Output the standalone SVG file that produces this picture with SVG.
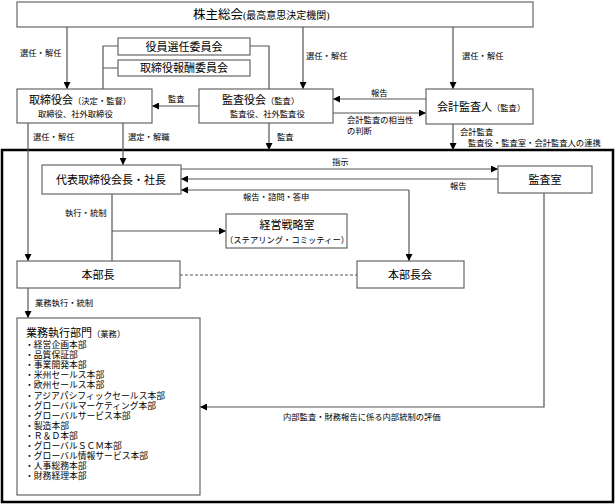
<svg xmlns="http://www.w3.org/2000/svg" width="616" height="504" viewBox="0 0 616 504">
<defs>
<marker id="ah" viewBox="0 0 8 8" refX="8" refY="4" markerWidth="7" markerHeight="7" markerUnits="userSpaceOnUse" orient="auto-start-reverse"><path d="M0,0 L8,4 L0,8 z" fill="#000"/></marker>
<style>
text{font-family:"Liberation Serif","Noto Sans CJK JP",serif;fill:#000}
.box{fill:#fff;stroke:#666;stroke-width:1.2}
.c{fill:none;stroke:#555;stroke-width:1.2}
.a{marker-end:url(#ah)}
.m{text-anchor:middle}
.t{font-size:11px}
.s{font-size:8.3px}
.l{font-size:8.8px}
</style>
</defs>
<rect width="616" height="504" fill="#fff"/>
<rect x="2" y="150" width="611" height="352" fill="none" stroke="#000" stroke-width="2.5"/>

<g id="connectors">
<path class="c a" d="M67,27 V89"/>
<path class="c a" d="M303,27 V89"/>
<path class="c a" d="M453,27 V89"/>
<path class="c" d="M118,46 H103 V89 M118,68 H103 M250,46 H269 V89"/>
<path class="c a" d="M199,106 H152"/>
<path class="c a" d="M426,99 H333"/>
<path class="c a" d="M333,113 H426"/>
<path class="c a" d="M28,123 V261"/>
<path class="c a" d="M123,123 V165"/>
<path class="c a" d="M269,123 V150"/>
<path class="c a" d="M453,124 V150"/>
<path class="c a" d="M181,169 H498"/>
<path class="c a" d="M498,179 H181"/>
<path class="c a" d="M409,190 V261" style="marker-start:none"/>
<path class="c a" d="M409,190 H181"/>
<path class="c" d="M112,194 V261"/>
<path class="c a" d="M112,231 H226"/>
<path class="c" d="M180,275 H357" stroke-dasharray="3,2"/>
<path class="c a" d="M28,288 V318"/>
<path class="c a" d="M544,193 V407 H200"/>
</g>

<g id="labels">
<text class="s" x="20" y="56">選任・解任</text>
<text class="s" x="306" y="59">選任・解任</text>
<text class="s" x="462" y="59">選任・解任</text>
<text class="s" x="168" y="102">監査</text>
<text class="s" x="371" y="96">報告</text>
<text class="s" x="347" y="123">会計監査の相当性</text>
<text class="s" x="347" y="134">の判断</text>
<text class="s" x="33" y="140">選任・解任</text>
<text class="s" x="128" y="140">選定・解職</text>
<text class="s" x="277" y="140">監査</text>
<text class="s" x="460" y="135">会計監査</text>
<text class="s" x="468" y="146">監査役・監査室・会計監査人の連携</text>
<text class="s" x="332" y="165">指示</text>
<text class="s" x="450" y="189">報告</text>
<text class="s" x="243" y="200">報告・諮問・答申</text>
<text class="s" x="65" y="216">執行・統制</text>
<text class="s" x="35" y="306">業務執行・統制</text>
<text class="s" x="283" y="420">内部監査・財務報告に係る内部統制の評価</text>
</g>

<g id="shareholders">
<rect class="box" x="17" y="2" width="516" height="25"/>
<text x="193" y="19"><tspan font-size="12.5px">株主総会</tspan><tspan font-size="10px">(最高意思決定機関)</tspan></text>
</g>
<g id="nomination">
<rect class="box" x="118" y="38" width="132" height="17"/>
<text class="t m" x="184" y="50.5">役員選任委員会</text>
</g>
<g id="compensation">
<rect class="box" x="118" y="60" width="132" height="16"/>
<text class="t m" x="184" y="72">取締役報酬委員会</text>
</g>
<g id="board">
<rect class="box" x="17" y="89" width="135" height="34"/>
<text x="29" y="104"><tspan class="t">取締役会</tspan><tspan class="s">（決定・監督）</tspan></text>
<text class="s" x="38" y="117">取締役、社外取締役</text>
</g>
<g id="auditors">
<rect class="box" x="199" y="89" width="134" height="34"/>
<text x="222" y="104"><tspan class="t">監査役会</tspan><tspan class="s">（監査）</tspan></text>
<text class="s" x="230" y="117">監査役、社外監査役</text>
</g>
<g id="accounting-auditor">
<rect class="box" x="426" y="89" width="107" height="35"/>
<text x="437" y="111"><tspan class="t">会計監査人</tspan><tspan class="s">（監査）</tspan></text>
</g>
<g id="president">
<rect class="box" x="42" y="165" width="139" height="29"/>
<text class="t m" x="111" y="183.5">代表取締役会長・社長</text>
</g>
<g id="audit-office">
<rect class="box" x="498" y="166" width="94" height="27"/>
<text class="t m" x="545" y="183.5">監査室</text>
</g>
<g id="strategy">
<rect class="box" x="226" y="214" width="121" height="34"/>
<text class="t m" x="287" y="229">経営戦略室</text>
<text class="s m" x="287" y="243">（ステアリング・コミッティー）</text>
</g>
<g id="division-head">
<rect class="box" x="17" y="261" width="163" height="27"/>
<text class="t m" x="98" y="278.5">本部長</text>
</g>
<g id="division-council">
<rect class="box" x="357" y="261" width="107" height="27"/>
<text class="t m" x="410" y="278.5">本部長会</text>
</g>
<g id="operations">
<rect class="box" x="17" y="318" width="183" height="177"/>
<text x="26" y="337"><tspan class="t">業務執行部門</tspan><tspan class="s">（業務）</tspan></text>
<text class="l" x="25" y="348">・経営企画本部</text>
<text class="l" x="25" y="358.1">・品質保証部</text>
<text class="l" x="25" y="368.2">・事業開発本部</text>
<text class="l" x="25" y="378.3">・米州セールス本部</text>
<text class="l" x="25" y="388.4">・欧州セールス本部</text>
<text class="l" x="25" y="398.5">・アジアパシフィックセールス本部</text>
<text class="l" x="25" y="408.6">・グローバルマーケティング本部</text>
<text class="l" x="25" y="418.7">・グローバルサービス本部</text>
<text class="l" x="25" y="428.8">・製造本部</text>
<text class="l" x="25" y="438.9">・Ｒ＆Ｄ本部</text>
<text class="l" x="25" y="449">・グローバルＳＣＭ本部</text>
<text class="l" x="25" y="459.1">・グローバル情報サービス本部</text>
<text class="l" x="25" y="469.2">・人事総務本部</text>
<text class="l" x="25" y="479.3">・財務経理本部</text>
</g>
</svg>
